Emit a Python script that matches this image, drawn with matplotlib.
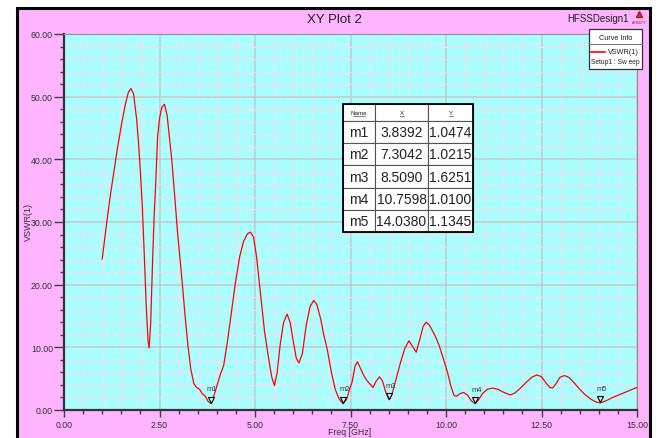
import matplotlib.pyplot as plt
from matplotlib.lines import Line2D
from matplotlib.patches import Rectangle
from matplotlib.ticker import MultipleLocator, FormatStrFormatter
import matplotlib.transforms as mtransforms

plt.rcParams['font.family'] = ['Liberation Sans', 'DejaVu Sans']

# curve
freq = [1.00, 1.10, 1.20, 1.30, 1.40, 1.50, 1.60, 1.68, 1.75, 1.82, 1.90, 1.95, 2.00, 2.05,
        2.10, 2.15, 2.20, 2.23, 2.27, 2.32, 2.36, 2.40, 2.45, 2.50, 2.56, 2.63, 2.70, 2.76,
        2.82, 2.90, 2.97, 3.04, 3.10, 3.17, 3.25, 3.32, 3.40, 3.47, 3.55, 3.62, 3.70, 3.77,
        3.84, 3.92, 4.00, 4.10, 4.18, 4.28, 4.38, 4.49, 4.60, 4.70, 4.80, 4.88, 4.96, 5.04,
        5.14, 5.25, 5.36, 5.44, 5.51, 5.58, 5.66, 5.75, 5.84, 5.92, 6.00, 6.08, 6.15, 6.24,
        6.34, 6.44, 6.54, 6.62, 6.72, 6.80, 6.89, 7.00, 7.10, 7.20, 7.30, 7.40, 7.48, 7.54,
        7.62, 7.68, 7.75, 7.83, 7.92, 8.00, 8.09, 8.17, 8.26, 8.34, 8.42, 8.51, 8.60, 8.70,
        8.81, 8.92, 9.03, 9.12, 9.22, 9.32, 9.40, 9.48, 9.56, 9.65, 9.74, 9.82, 9.93, 10.04,
        10.12, 10.21, 10.28, 10.36, 10.46, 10.56, 10.66, 10.76, 10.85, 10.95, 11.08, 11.22,
        11.36, 11.52, 11.68, 11.80, 11.95, 12.10, 12.24, 12.38, 12.50, 12.62, 12.72, 12.79,
        12.88, 12.98, 13.10, 13.22, 13.36, 13.50, 13.65, 13.80, 13.92, 14.04, 14.20, 14.40,
        14.60, 14.80, 15.00]
vswr = [24.1, 29.0, 33.7, 37.8, 41.8, 45.4, 48.6, 50.6, 51.3, 50.5, 46.5, 42.7, 38.0, 32.5,
        25.0, 17.0, 11.0, 9.9, 14.0, 24.0, 31.0, 36.0, 43.5, 46.5, 48.3, 48.8, 47.0, 43.5,
        40.0, 34.0, 28.5, 24.0, 20.0, 15.0, 10.0, 6.5, 4.2, 3.6, 3.3, 2.6, 2.2, 1.4,
        1.05, 2.2, 3.8, 5.8, 7.1, 11.0, 15.5, 20.4, 24.5, 26.9, 28.1, 28.4, 27.6, 24.5,
        18.8, 12.5, 8.1, 5.2, 3.9, 6.0, 10.5, 14.0, 15.3, 14.0, 11.0, 8.3, 7.5, 9.0,
        13.5, 16.5, 17.5, 16.8, 14.5, 12.0, 9.7, 6.0, 3.3, 1.8, 1.02, 1.7, 3.4, 4.4,
        7.0, 7.7, 6.8, 5.7, 4.8, 4.2, 3.6, 4.6, 5.3, 4.6, 2.9, 1.63, 2.8, 5.1,
        7.6, 9.8, 11.05, 10.2, 9.2, 11.4, 13.3, 14.0, 13.6, 12.6, 11.5, 10.3, 8.2, 6.0,
        4.0, 2.3, 2.2, 2.6, 2.8, 2.4, 1.5, 1.01, 1.6, 2.6, 3.3, 3.5,
        3.3, 2.8, 2.4, 2.7, 3.5, 4.4, 5.2, 5.6, 5.3, 4.3, 3.6, 3.5,
        4.2, 5.2, 5.5, 5.2, 4.3, 3.3, 2.4, 1.7, 1.3, 1.13, 1.5, 2.1,
        2.6, 3.1, 3.6]

marker_names = ['m1', 'm2', 'm3', 'm4', 'm5']
marker_x = [3.8392, 7.3042, 8.5090, 10.7598, 14.0380]
marker_y = [1.0474, 1.0215, 1.6251, 1.0100, 1.1345]

W, H = 659, 439
fig = plt.figure(figsize=(W / 100, H / 100), dpi=100)
fig.patch.set_facecolor('white')


def fx(px):
    return px / W


def fy(py):
    return 1 - py / H


pink = '#FFB4FF'
fig.add_artist(Rectangle((fx(17), 0), fx(650) - fx(17), fy(9), transform=fig.transFigure,
                         facecolor=pink, edgecolor='none', zorder=0))
fig.add_artist(Line2D([fx(17), fx(17)], [0, fy(9)], color='black', lw=2.2))
fig.add_artist(Line2D([fx(650), fx(650)], [0, fy(9)], color='black', lw=2.2))
fig.add_artist(Line2D([fx(17), fx(650)], [fy(9), fy(9)], color='black', lw=2.2))

ax = fig.add_axes([fx(64), fy(411), fx(637) - fx(64), fy(35) - fy(411)])
ax.set_facecolor('#AAFFFF')

ax.plot(freq, vswr, color='#FF0000', lw=0.9, zorder=3)

# markers: triangle tip on the point, label above
tri = mtransforms.offset_copy(ax.transData, fig=fig, y=2.6, units='points')
ax.plot(marker_x, marker_y, linestyle='none', marker='v', markersize=4.5,
        markerfacecolor='#AAFFFF', markeredgecolor='black', markeredgewidth=0.8,
        transform=tri, zorder=4)
for name, mx, my in zip(marker_names, marker_x, marker_y):
    ax.annotate(name, (mx, my), xytext=(1, 8), textcoords='offset points',
                ha='center', va='bottom', fontsize=5.5, color='#2F4050', zorder=4)

ax.set_xlim(0, 15)
ax.set_ylim(0, 60)
ax.xaxis.set_major_locator(MultipleLocator(2.5))
ax.xaxis.set_minor_locator(MultipleLocator(0.5))
ax.yaxis.set_major_locator(MultipleLocator(10))
ax.yaxis.set_minor_locator(MultipleLocator(2))
ax.xaxis.set_major_formatter(FormatStrFormatter('%.2f'))
ax.yaxis.set_major_formatter(FormatStrFormatter('%.2f'))
ax.grid(which='minor', color='#F2DCEE', lw=0.8, zorder=1)
ax.grid(which='major', color='#C8C8C8', lw=1.1, zorder=1)
ax.set_axisbelow(True)

ax.tick_params(axis='y', which='major', length=7, width=1, color='#404040',
               labelsize=6.3, labelcolor='#333333', pad=1)
ax.tick_params(axis='y', which='minor', length=3, width=1, color='#404040')
ax.tick_params(axis='x', which='major', length=5, width=1, color='#404040',
               labelsize=6.3, labelcolor='#333333', pad=2)
ax.tick_params(axis='x', which='minor', length=3, width=1, color='#404040')
for s in ['left', 'bottom']:
    ax.spines[s].set_color('#333333')
    ax.spines[s].set_linewidth(1.6)
for s in ['top', 'right']:
    ax.spines[s].set_color('#909090')
    ax.spines[s].set_linewidth(0.8)

fig.text(fx(28), fy(222), 'VSWR(1)', rotation=90, ha='center', va='center',
         fontsize=6.5, color='#333333')
fig.text(fx(350), fy(433), 'Freq [GHz]', ha='center', va='center', fontsize=6.3,
         color='#333333')
fig.text(fx(334), fy(20), 'XY Plot 2', ha='center', va='center', fontsize=9.5,
         color='#222222')
fig.text(fx(598), fy(19), 'HFSSDesign1', ha='center', va='center', fontsize=7,
         color='#222222')
# ansoft logo
fig.add_artist(Line2D([fx(639)], [fy(15)], marker='^', markersize=5, color='#E03030',
                      markeredgecolor='#A02020', transform=fig.transFigure))
fig.text(fx(639), fy(22.5), 'ANSOFT', ha='center', va='center', fontsize=2.4, color='#802020')

# curve info box
fig.add_artist(Rectangle((fx(589), fy(70)), fx(642) - fx(589), fy(30) - fy(70),
                         transform=fig.transFigure, facecolor='white', edgecolor='#333333',
                         lw=0.9, zorder=5))
fig.add_artist(Line2D([fx(589), fx(642)], [fy(45), fy(45)], color='#777777', lw=0.7, zorder=6))
fig.text(fx(615.5), fy(38), 'Curve Info', ha='center', va='center', fontsize=5.2,
         color='#222222', zorder=6)
fig.add_artist(Line2D([fx(591), fx(605)], [fy(53), fy(53)], color='#FF0000', lw=1.2, zorder=6))
fig.text(fx(639), fy(53), 'VSWR(1)', ha='right', va='center', fontsize=5.2,
         color='#222222', zorder=6)
fig.text(fx(615.5), fy(63), 'Setup1 : Sw eep', ha='center', va='center', fontsize=4.8,
         color='#222222', zorder=6)

# marker table
cells = [[n, '%.4f' % x, '%.4f' % y] for n, x, y in zip(marker_names, marker_x, marker_y)]
tab = ax.table(cellText=cells, colLabels=['Name', 'X', 'Y'], cellLoc='center',
               bbox=[(343 - 64) / 573, (411 - 233) / 376, (473 - 343) / 573, (233 - 105) / 376],
               zorder=6)
tab.auto_set_font_size(False)
col_w = [32, 53, 45]
for (r, c), cell in tab.get_celld().items():
    cell.set_width(col_w[c])
    cell.set_height(17 if r == 0 else 22)
    cell.set_edgecolor('#555555')
    cell.set_linewidth(0.8)
    cell.set_facecolor('white')
    cell.PAD = 0.02
    if r == 0:
        cell.get_text().set_fontsize(4.5)
    else:
        cell.get_text().set_fontsize(10)
    cell.get_text().set_color('#222222')
# header underlines
for cx, hw in [(359, 6), (401.5, 2), (450.5, 2)]:
    fig.add_artist(Line2D([fx(cx - hw), fx(cx + hw)], [fy(117), fy(117)],
                          color='#222222', lw=0.4, zorder=7))
fig.add_artist(Rectangle((fx(343), fy(233)), fx(473) - fx(343), fy(105) - fy(233),
                         transform=fig.transFigure, facecolor='none', edgecolor='black',
                         lw=1.3, zorder=7))

fig.savefig('out.png', dpi=100)
